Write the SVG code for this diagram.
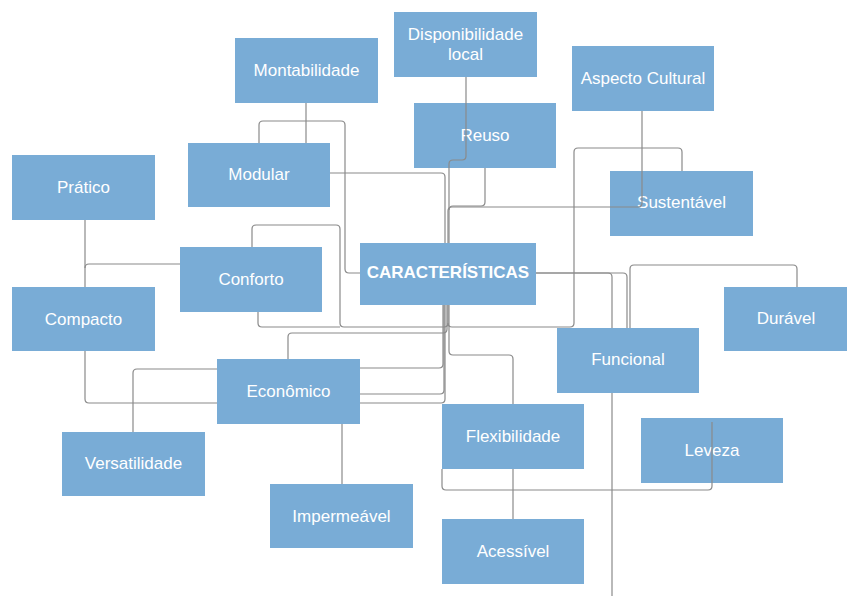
<svg xmlns="http://www.w3.org/2000/svg" width="847" height="596" viewBox="0 0 847 596">
<style>
.box{fill:#79acd6;}
.lbl{font-family:"Liberation Sans",Arial,sans-serif;font-size:17px;fill:#ffffff;text-anchor:middle;dominant-baseline:central;}
.hub{font-weight:bold;}
.c{fill:none;stroke:#8a8a8a;stroke-width:1.2;}
</style>
<rect width="847" height="596" fill="#ffffff"/>
<g id="nodes">
<g id="montabilidade"><rect class="box" x="235" y="38" width="143" height="65"/><text class="lbl" x="306.5" y="70.5">Montabilidade</text></g>
<g id="disponibilidade"><rect class="box" x="394" y="12" width="143" height="65"/><text class="lbl" x="465.5" y="34">Disponibilidade</text><text class="lbl" x="465.5" y="54">local</text></g>
<g id="aspecto"><rect class="box" x="572" y="46" width="142" height="65"/><text class="lbl" x="643" y="78">Aspecto Cultural</text></g>
<g id="reuso"><rect class="box" x="414" y="103" width="142" height="65"/><text class="lbl" x="485" y="135">Reuso</text></g>
<g id="modular"><rect class="box" x="188" y="143" width="142" height="64"/><text class="lbl" x="259" y="174">Modular</text></g>
<g id="pratico"><rect class="box" x="12" y="155" width="143" height="65"/><text class="lbl" x="83.5" y="187">Prático</text></g>
<g id="sustentavel"><rect class="box" x="610" y="171" width="143" height="65"/><text class="lbl" x="681.5" y="202">Sustentável</text></g>
<g id="conforto"><rect class="box" x="180" y="247" width="142" height="65"/><text class="lbl" x="251" y="279">Conforto</text></g>
<g id="caracteristicas"><rect class="box" x="360" y="243" width="176" height="62"/><text class="lbl hub" x="448" y="272">CARACTERÍSTICAS</text></g>
<g id="compacto"><rect class="box" x="12" y="287" width="143" height="64"/><text class="lbl" x="83.5" y="319">Compacto</text></g>
<g id="duravel"><rect class="box" x="724" y="287" width="123" height="64"/><text class="lbl" x="786" y="318">Durável</text></g>
<g id="funcional"><rect class="box" x="557" y="328" width="142" height="65"/><text class="lbl" x="628" y="359">Funcional</text></g>
<g id="economico"><rect class="box" x="217" y="359" width="143" height="65"/><text class="lbl" x="288.5" y="391">Econômico</text></g>
<g id="flexibilidade"><rect class="box" x="442" y="404" width="142" height="65"/><text class="lbl" x="513" y="436">Flexibilidade</text></g>
<g id="leveza"><rect class="box" x="641" y="418" width="142" height="65"/><text class="lbl" x="712" y="450">Leveza</text></g>
<g id="versatilidade"><rect class="box" x="62" y="432" width="143" height="64"/><text class="lbl" x="133.5" y="463">Versatilidade</text></g>
<g id="impermeavel"><rect class="box" x="270" y="484" width="143" height="64"/><text class="lbl" x="341.5" y="516">Impermeável</text></g>
<g id="acessivel"><rect class="box" x="442" y="519" width="142" height="65"/><text class="lbl" x="513" y="551">Acessível</text></g>
</g>
<g id="connectors">
<path class="c" d="M306,103 V143"/>
<path class="c" d="M259,143 V125 Q259,121 263,121 H341 Q345,121 345,125 V269 Q345,273 349,273 H360"/>
<path class="c" d="M330,173 H441 Q445,173 445,177 V243"/>
<path class="c" d="M466,77 V156 Q466,160 462,160 H453 Q449,160 449,164 V243"/>
<path class="c" d="M485,168 V202 Q485,206 481,206 H453 Q449,206 449,210"/>
<path class="c" d="M642,111 V203 Q642,207 638,207 H452 Q448,207 448,211 V243"/>
<path class="c" d="M682,171 V152 Q682,148 678,148 H578 Q574,148 574,152 V323 Q574,327 570,327 H452 Q448,327 448,323 V305"/>
<path class="c" d="M252,247 V229 Q252,225 256,225 H336 Q340,225 340,229 V323 Q340,327 344,327 H444 Q448,327 448,323"/>
<path class="c" d="M258,312 V323 Q258,327 262,327 H340"/>
<path class="c" d="M288,359 V337 Q288,333 292,333 H443 Q447,333 447,329 V305"/>
<path class="c" d="M360,368 H439 Q443,368 443,364 V305"/>
<path class="c" d="M360,394 H440 Q444,394 444,390 V305"/>
<path class="c" d="M85,351 V399 Q85,403 89,403 H217"/>
<path class="c" d="M360,403 H441 Q445,403 445,399 V305"/>
<path class="c" d="M513,404 V359 Q513,355 509,355 H453 Q449,355 449,351 V305"/>
<path class="c" d="M536,273 H608 Q612,273 612,277 V328"/>
<path class="c" d="M536,273 H623 Q627,273 627,277 V328"/>
<path class="c" d="M630,328 V269 Q630,265 634,265 H793 Q797,265 797,269 V287"/>
<path class="c" d="M612,393 V596"/>
<path class="c" d="M712,422 V486 Q712,490 708,490 H446 Q442,490 442,486 V469"/>
<path class="c" d="M513,469 V519"/>
<path class="c" d="M85,220 V287"/>
<path class="c" d="M180,264 H89 Q85,264 85,268"/>
<path class="c" d="M217,369 H137 Q133,369 133,373 V432"/>
<path class="c" d="M342,424 V484"/>
</g>
</svg>
